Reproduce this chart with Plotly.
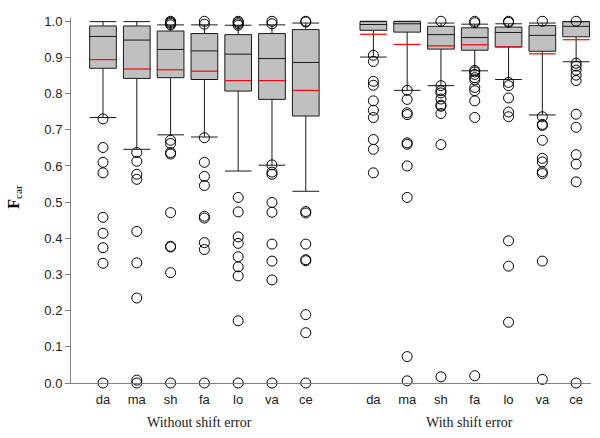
import plotly.graph_objects as go

categories = ["da", "ma", "sh", "fa", "lo", "va", "ce"]
groups = ["Without shift error", "With shift error"]
positions_wo = [1, 2, 3, 4, 5, 6, 7]
positions_w = [9, 10, 11, 12, 13, 14, 15]

# Without shift error
q1_wo = [0.870, 0.842, 0.844, 0.839, 0.807, 0.784, 0.738]
med_wo = [0.958, 0.948, 0.922, 0.918, 0.909, 0.897, 0.886]
q3_wo = [0.987, 0.987, 0.973, 0.966, 0.963, 0.966, 0.977]
mean_wo = [0.894, 0.868, 0.866, 0.862, 0.836, 0.836, 0.809]
low_wo = [0.734, 0.646, 0.686, 0.680, 0.586, 0.602, 0.530]
high_wo = [0.999, 0.999, 0.990, 0.990, 0.989, 0.990, 0.995]
out_wo = [
    [0.730, 0.651, 0.610, 0.581, 0.458, 0.414, 0.374, 0.331, 0.0],
    [0.637, 0.613, 0.577, 0.563, 0.419, 0.332, 0.235, 0.008, 0.0],
    [1.0, 0.997, 0.994, 0.990, 0.671, 0.662, 0.637, 0.633, 0.471, 0.378, 0.376, 0.305, 0.0],
    [1.0, 0.992, 0.678, 0.610, 0.571, 0.546, 0.461, 0.456, 0.388, 0.369, 0.0],
    [1.0, 0.997, 0.993, 0.989, 0.513, 0.473, 0.404, 0.386, 0.349, 0.321, 0.296, 0.172, 0.0],
    [1.0, 0.993, 0.603, 0.583, 0.577, 0.499, 0.472, 0.384, 0.337, 0.285, 0.0],
    [1.0, 0.998, 0.474, 0.470, 0.384, 0.341, 0.338, 0.189, 0.139, 0.0],
]

# With shift error
q1_w = [0.975, 0.970, 0.923, 0.920, 0.929, 0.917, 0.957]
med_w = [0.991, 0.993, 0.963, 0.955, 0.969, 0.961, 0.986]
q3_w = [0.999, 0.999, 0.986, 0.982, 0.984, 0.988, 0.999]
mean_w = [0.964, 0.936, 0.932, 0.935, 0.929, 0.910, 0.949]
low_w = [0.901, 0.809, 0.822, 0.863, 0.839, 0.741, 0.888]
high_w = [1.0, 1.0, 0.995, 0.992, 0.993, 0.995, 0.999]
out_w = [
    [0.906, 0.889, 0.834, 0.823, 0.780, 0.754, 0.734, 0.673, 0.646, 0.581],
    [0.809, 0.784, 0.747, 0.742, 0.664, 0.660, 0.600, 0.513, 0.073, 0.006],
    [1.0, 0.822, 0.808, 0.802, 0.785, 0.768, 0.765, 0.745, 0.659, 0.017],
    [1.0, 0.996, 0.864, 0.860, 0.853, 0.844, 0.838, 0.817, 0.808, 0.780, 0.734, 0.020],
    [1.0, 0.997, 0.831, 0.822, 0.788, 0.749, 0.736, 0.393, 0.323, 0.168],
    [1.0, 0.736, 0.715, 0.712, 0.671, 0.621, 0.611, 0.584, 0.579, 0.337, 0.010],
    [1.0, 0.884, 0.876, 0.865, 0.851, 0.836, 0.743, 0.707, 0.631, 0.605, 0.556, 0.0],
]
y_ticks = [0.0, 0.1, 0.2, 0.3, 0.4, 0.5, 0.6, 0.7, 0.8, 0.9, 1.0]

BOX_W = 0.79
fig = go.Figure()

all_pos = positions_wo + positions_w
all_means = mean_wo + mean_w
fig.add_trace(go.Box(
    x=all_pos,
    q1=q1_wo + q1_w, median=med_wo + med_w, q3=q3_wo + q3_w,
    lowerfence=low_wo + low_w, upperfence=high_wo + high_w,
    width=BOX_W, whiskerwidth=1.0,
    fillcolor="#c0c0c0", line=dict(color="#1a1a1a", width=1),
    boxpoints=False, showlegend=False, hoverinfo="skip",
))

# red mean lines spanning each box
mx, my = [], []
for pos, m in zip(all_pos, all_means):
    mx += [pos - BOX_W / 2, pos + BOX_W / 2, None]
    my += [m, m, None]
fig.add_trace(go.Scatter(
    x=mx, y=my, mode="lines", line=dict(color="#ff0000", width=1.2),
    showlegend=False, hoverinfo="skip",
))

# outliers
ox, oy = [], []
for pos, vals in zip(all_pos, out_wo + out_w):
    for v in vals:
        ox.append(pos)
        oy.append(v)
fig.add_trace(go.Scatter(
    x=ox, y=oy, mode="markers",
    marker=dict(symbol="circle-open", size=10, color="#000000", line=dict(width=1)),
    cliponaxis=False, showlegend=False, hoverinfo="skip",
))

group_centers = [sum(positions_wo) / len(positions_wo), sum(positions_w) / len(positions_w)]
serif = "Liberation Serif, Times New Roman, serif"

fig.update_layout(
    width=600, height=438,
    margin=dict(l=71, r=9, t=18, b=55, autoexpand=False),
    paper_bgcolor="white", plot_bgcolor="white",
    font=dict(family="Liberation Sans, Arial, sans-serif", size=12, color="#222222"),
    xaxis=dict(
        range=[0.053, 15.44], showgrid=False, zeroline=False, automargin=False,
        showline=True, linecolor="#808080", linewidth=1,
        tickvals=all_pos, ticktext=categories + categories,
        ticks="", tickfont=dict(size=13, color="#222222"),
        ticklabelstandoff=4,
    ),
    yaxis=dict(
        range=[0, 1.009], showgrid=False, zeroline=False, automargin=False,
        showline=True, linecolor="#808080", linewidth=1,
        tickvals=y_ticks, tickformat=".1f",
        ticks="outside", ticklen=5, tickcolor="#808080",
        tickfont=dict(size=13, color="#222222"),
    ),
    annotations=[
        dict(text="<b>F</b><sub>car</sub>", xref="paper", yref="paper",
             x=-0.108, y=0.51, xanchor="center", yanchor="middle",
             textangle=-90, showarrow=False,
             font=dict(family=serif, size=16, color="#000000")),
        dict(text=groups[0], xref="x", yref="paper", x=group_centers[0], y=0,
             yanchor="middle", yshift=-39, xshift=-5, showarrow=False,
             font=dict(family=serif, size=14, color="#222222")),
        dict(text=groups[1], xref="x", yref="paper", x=group_centers[1], y=0,
             yanchor="middle", yshift=-39, xshift=-5, showarrow=False,
             font=dict(family=serif, size=14, color="#222222")),
    ],
)

fig.write_html(
    "out.html",
    config={"displayModeBar": False},
    post_script="document.body.style.margin='0';document.body.style.overflow='hidden';",
)
